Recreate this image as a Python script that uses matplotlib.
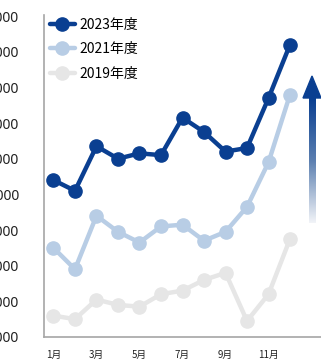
import numpy as np
import matplotlib
matplotlib.use("Agg")
import matplotlib.pyplot as plt
from matplotlib.colors import LinearSegmentedColormap
from matplotlib.patches import Polygon

plt.rcParams['font.family'] = ['Noto Sans CJK JP', 'DejaVu Sans']

months = list(range(1, 13))
tick_months = [1, 3, 5, 7, 9, 11]
tick_labels = [f"{m}月" for m in tick_months]
y_ticks = [1000, 2000, 3000, 4000, 5000, 6000, 7000, 8000, 9000, 10000]

series_names = ["2023年度", "2021年度", "2019年度"]
fy2023 = [5400, 5100, 6350, 6000, 6150, 6100, 7150, 6750, 6200, 6300, 7700, 9200]
fy2021 = [3500, 2900, 4400, 3950, 3650, 4100, 4150, 3700, 3950, 4650, 5900, 7800]
fy2019 = [1600, 1500, 2050, 1900, 1850, 2200, 2300, 2600, 2800, 1450, 2200, 3750]
colors = ["#0A3F91", "#B8CDE5", "#E6E6E6"]

fig = plt.figure(figsize=(3.21, 3.59), dpi=100)
ax = fig.add_axes([44 / 321, 22 / 359, 277 / 321, 322 / 359])

# draw oldest year first so the latest sits on top
for vals, name, c in reversed(list(zip([fy2023, fy2021, fy2019], series_names, colors))):
    ax.plot(months, vals, color=c, lw=3.2, marker='o', ms=9.5,
            mec=c, mfc=c, label=name, solid_capstyle='round')

ax.set_xlim(0.56, 13.44)
ax.set_ylim(1000, 10030)
ax.set_yticks(y_ticks)
ax.set_yticklabels([f"{v:,}" for v in y_ticks], fontsize=10, color="#222222",
                   family=['Noto Sans', 'DejaVu Sans'])
ax.set_xticks(tick_months)
ax.set_xticklabels(tick_labels, fontsize=7, color="#222222")
ax.tick_params(axis='y', length=0, pad=18)
ax.tick_params(axis='x', length=0, pad=9.5)

for s in ['top', 'right']:
    ax.spines[s].set_visible(False)
for s in ['left', 'bottom']:
    ax.spines[s].set_color("#A6A6A6")
    ax.spines[s].set_linewidth(1.2)

handles, labels = ax.get_legend_handles_labels()
order = [2, 1, 0]
ax.legend([handles[i] for i in order], [labels[i] for i in order],
          loc='upper left', bbox_to_anchor=(-0.005, 1.012), frameon=False,
          fontsize=10, handlelength=1.8, handletextpad=0.35,
          labelspacing=0.74, borderaxespad=0.1)

# upward trend arrow with a fading shaft (axes fraction coordinates)
trans = ax.transAxes
x0, x1 = (309 - 44) / 277, (316 - 44) / 277
yb, yt = (337 - 223) / 322, (337 - 98) / 322
cmap = LinearSegmentedColormap.from_list("fade", ["#F2F4F8", "#5B7FB0", "#0A3F91"])
grad = np.linspace(0, 1, 256).reshape(-1, 1)
ax.imshow(grad, cmap=cmap, origin='lower', aspect='auto',
          extent=[x0, x1, yb, yt], transform=trans, zorder=3)
hx0, hx1 = (303 - 44) / 277, (321 - 44) / 277
ytip = (337 - 76) / 322
ax.add_patch(Polygon([[hx0, yt], [hx1, yt], [(hx0 + hx1) / 2, ytip]],
                     closed=True, transform=trans, color="#0A3F91", zorder=3,
                     clip_on=False))
ax.set_xlim(0.56, 13.44)
ax.set_ylim(1000, 10030)

fig.savefig("out.png", dpi=100)
